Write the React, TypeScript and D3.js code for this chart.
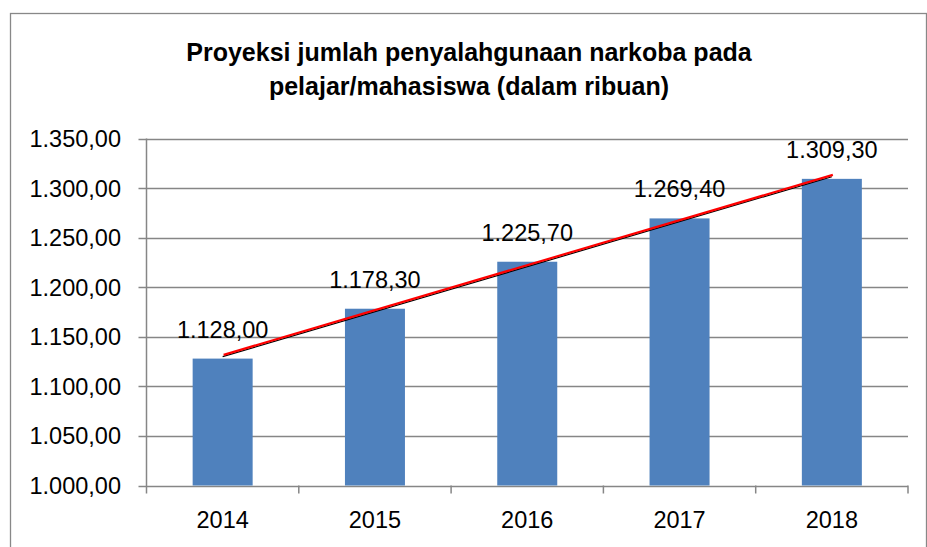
import React, { useEffect, useRef } from "react";
import * as d3 from "d3";

const years = ["2014", "2015", "2016", "2017", "2018"];
const values = [1128.0, 1178.3, 1225.7, 1269.4, 1309.3];
const yTicks = [1000, 1050, 1100, 1150, 1200, 1250, 1300, 1350];
const titleLines = [
  "Proyeksi jumlah penyalahgunaan narkoba pada",
  "pelajar/mahasiswa (dalam ribuan)",
];

// 1.234,56 style
const fmt = (v: number) => {
  const [a, b] = v.toFixed(2).split(".");
  return a.replace(/\B(?=(\d{3})+(?!\d))/g, ".") + "," + b;
};

const W = 927;
const H = 547;
const FONT = "'Liberation Sans', Arial, sans-serif";

export default function App() {
  const ref = useRef<SVGSVGElement | null>(null);

  useEffect(() => {
    const svg = d3.select(ref.current);
    svg.selectAll("*").remove();

    const left = 146.5, right = 908, top = 138.5, bottom = 485.5;

    // chart frame
    svg.append("rect")
      .attr("x", 10.5).attr("y", 13.5)
      .attr("width", 916).attr("height", 560)
      .attr("fill", "#fff").attr("stroke", "#888").attr("stroke-width", 1.3);

    // title
    svg.selectAll("text.title")
      .data(titleLines)
      .enter()
      .append("text")
      .attr("class", "title")
      .attr("x", 469)
      .attr("y", (d, i) => 61 + i * 34)
      .attr("text-anchor", "middle")
      .attr("font-family", FONT)
      .attr("font-weight", "bold")
      .attr("font-size", 25)
      .attr("fill", "#000")
      .text((d) => d);

    const xs = d3.scaleBand().domain(years).range([left, right]);
    const y = d3.scaleLinear().domain([1000, 1350]).range([bottom, top]);

    // gridlines
    svg.selectAll("line.grid")
      .data(yTicks)
      .enter()
      .append("line")
      .attr("x1", left - 8).attr("x2", right)
      .attr("y1", (d) => Math.round(y(d)) + 0.5)
      .attr("y2", (d) => Math.round(y(d)) + 0.5)
      .attr("stroke", "#868686").attr("stroke-width", 1.5);

    // y labels
    svg.selectAll("text.ylab")
      .data(yTicks)
      .enter()
      .append("text")
      .attr("x", 121)
      .attr("y", (d) => y(d) + 8.5)
      .attr("text-anchor", "end")
      .attr("font-family", FONT)
      .attr("font-size", 23.5)
      .attr("fill", "#000")
      .text((d) => fmt(d));

    // y axis
    svg.append("line")
      .attr("x1", left).attr("x2", left)
      .attr("y1", top).attr("y2", bottom + 8)
      .attr("stroke", "#868686").attr("stroke-width", 1.5);

    // x tick marks at category boundaries
    const bounds = years.map((d) => xs(d) as number).concat([right]);
    svg.selectAll("line.xtick")
      .data(bounds.slice(1))
      .enter()
      .append("line")
      .attr("x1", (d) => d).attr("x2", (d) => d)
      .attr("y1", bottom).attr("y2", bottom + 8)
      .attr("stroke", "#868686").attr("stroke-width", 1.5);

    // bars
    svg.selectAll("rect.bar")
      .data(values)
      .enter()
      .append("rect")
      .attr("x", (d, i) => xs(years[i])! + xs.bandwidth() / 2 - 30)
      .attr("width", 60)
      .attr("y", (d) => y(d))
      .attr("height", (d) => bottom - y(d))
      .attr("fill", "#4F81BD");

    // x labels
    svg.selectAll("text.xlab")
      .data(years)
      .enter()
      .append("text")
      .attr("x", (d) => xs(d)! + xs.bandwidth() / 2)
      .attr("y", 528)
      .attr("text-anchor", "middle")
      .attr("font-family", FONT)
      .attr("font-size", 23.5)
      .attr("fill", "#000")
      .text((d) => d);

    // linear trend (least squares)
    const n = values.length;
    const mx = d3.mean(d3.range(n))!;
    const my = d3.mean(values)!;
    const slope =
      d3.sum(values, (v, i) => (i - mx) * (v - my)) /
      d3.sum(d3.range(n), (i) => (i - mx) * (i - mx));
    const icpt = my - slope * mx;
    const cx = (i: number) => xs(years[i])! + xs.bandwidth() / 2;
    const trend: [number, number][] = [0, n - 1].map((i) => [cx(i), y(icpt + slope * i)]);

    svg.append("path")
      .attr("d", d3.line()(trend.map(([a, b]) => [a, b + 1.4]) as [number, number][]))
      .attr("stroke", "#000").attr("stroke-width", 1.2).attr("fill", "none");
    svg.append("path")
      .attr("d", d3.line()(trend.map(([a, b]) => [a + 1, b - 0.4]) as [number, number][]))
      .attr("stroke", "#FF0000").attr("stroke-width", 2.2).attr("fill", "none");

    // value labels
    svg.selectAll("text.vlab")
      .data(values)
      .enter()
      .append("text")
      .attr("x", (d, i) => cx(i))
      .attr("y", (d) => y(d) - 21)
      .attr("text-anchor", "middle")
      .attr("font-family", FONT)
      .attr("font-size", 23.5)
      .attr("fill", "#000")
      .text((d) => fmt(d));
  }, []);

  return (
    <svg
      ref={ref}
      width={W}
      height={H}
      style={{ position: "absolute", left: 0, top: 0, background: "#fff" }}
    />
  );
}
